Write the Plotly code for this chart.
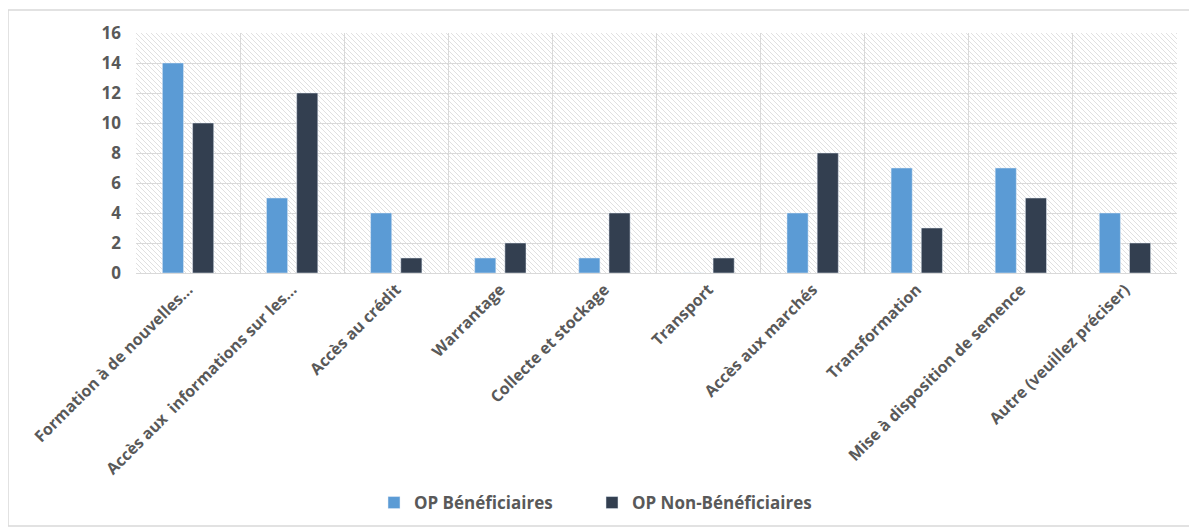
import base64
import plotly.graph_objects as go

categories = [
    "Formation à de nouvelles...",
    "Accès aux  informations sur les...",
    "Accès au crédit",
    "Warrantage",
    "Collecte et stockage",
    "Transport",
    "Accès aux marchés",
    "Transformation",
    "Mise à disposition de semence",
    "Autre (veuillez préciser)",
]
beneficiaires = [14, 5, 4, 1, 1, 0, 4, 7, 7, 4]
non_beneficiaires = [10, 12, 1, 2, 4, 1, 8, 3, 5, 2]
y_ticks = [0, 2, 4, 6, 8, 10, 12, 14, 16]

W, H = 1197, 529
OFF = 8  # page body margin
L, R, T, B = 136 - OFF, W - 1177 + OFF, 33 - OFF, H - 273 + OFF
PW, PH = W - L - R, H - T - B

# faint diagonal hatch used as plot background
svg = (
    f'<svg xmlns="http://www.w3.org/2000/svg" width="{PW}" height="{PH}">'
    '<defs><pattern id="h" width="5" height="5" patternUnits="userSpaceOnUse">'
    '<path d="M-1,-1 L6,6" stroke="#e0e0e0" stroke-width="1"/></pattern></defs>'
    f'<rect width="{PW}" height="{PH}" fill="url(#h)"/></svg>'
)
hatch = "data:image/svg+xml;base64," + base64.b64encode(svg.encode()).decode()

GREY = "#595959"
FONT = "Open Sans"

fig = go.Figure()
fig.add_trace(go.Bar(
    x=categories, y=beneficiaires, name="OP Bénéficiaires",
    marker_color="#5B9BD5", legend="legend", showlegend=True,
))
fig.add_trace(go.Bar(
    x=categories, y=non_beneficiaires, name="OP Non-Bénéficiaires",
    marker_color="#333F50", legend="legend2", showlegend=True,
))

def px_x(p):
    return (p - OFF - L) / PW

def px_y(p):
    return (T + PH - (p - OFF)) / PH

legend_style = dict(
    orientation="h", xanchor="left", y=px_y(503), yanchor="middle",
    font=dict(size=17, color=GREY, weight="bold"), itemwidth=30,
)

fig.update_layout(
    width=W, height=H, showlegend=True,
    barmode="group", bargap=0.42, bargroupgap=0.3,
    margin=dict(l=L, r=R, t=T, b=B),
    plot_bgcolor="white", paper_bgcolor="white",
    font=dict(family=FONT, color=GREY),
    legend=dict(x=px_x(374), **legend_style),
    legend2=dict(x=px_x(592), **legend_style),
    images=[dict(
        source=hatch, xref="paper", yref="paper", x=0, y=1,
        sizex=1, sizey=1, sizing="stretch", layer="below",
        xanchor="left", yanchor="top",
    )],
    shapes=[dict(
        type="rect", xref="paper", yref="paper",
        x0=px_x(8), x1=px_x(1190),
        y0=px_y(526), y1=px_y(10),
        line=dict(color="#d9d9d9", width=1.5), layer="below",
    )],
)
fig.update_xaxes(
    tickangle=-45, tickson="boundaries", ticks="",
    showgrid=True, gridcolor="#d9d9d9",
    showline=True, linecolor="#d9d9d9",
    tickfont=dict(size=16, color=GREY, weight="bold"),
)
fig.update_yaxes(
    range=[0, 16], tickvals=y_ticks,
    showgrid=True, gridcolor="#d9d9d9", zeroline=False,
    tickfont=dict(size=17, color=GREY, weight="bold"),
    ticklabelstandoff=14,
)

fig.write_html("out.html")
